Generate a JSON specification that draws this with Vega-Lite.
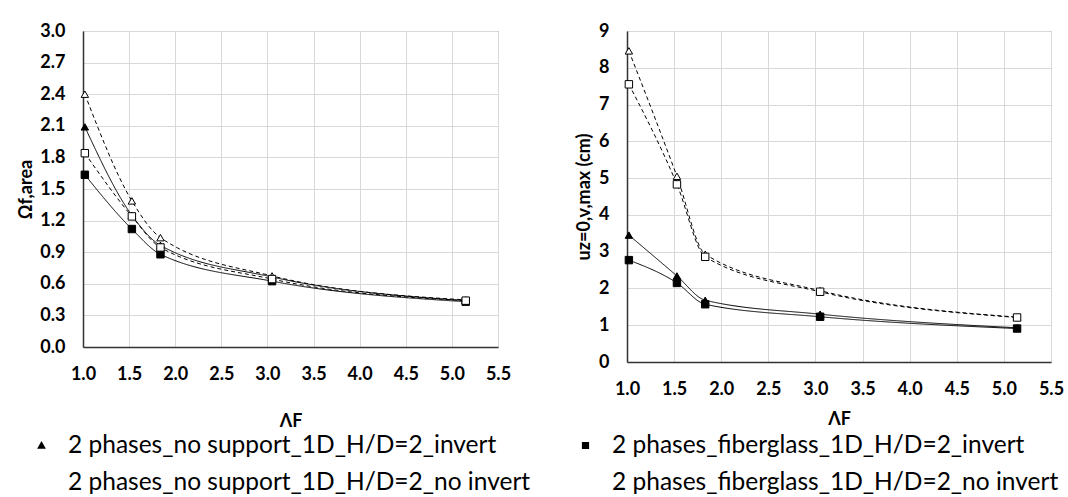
{
  "$schema": "https://vega.github.io/schema/vega-lite/v6.json",
  "padding": {"left": 17, "top": 21, "right": 0, "bottom": 0},
  "background": "white",
  "spacing": 63,
  "datasets": {
    "omega": [
      {"series": "2 phases_no support_1D_H/D=2_invert", "mode": "invert", "lambda": 1.02, "value": 2.09},
      {"series": "2 phases_no support_1D_H/D=2_invert", "mode": "invert", "lambda": 1.53, "value": 1.25},
      {"series": "2 phases_no support_1D_H/D=2_invert", "mode": "invert", "lambda": 1.84, "value": 0.965},
      {"series": "2 phases_no support_1D_H/D=2_invert", "mode": "invert", "lambda": 3.05, "value": 0.665},
      {"series": "2 phases_no support_1D_H/D=2_invert", "mode": "invert", "lambda": 5.15, "value": 0.44},
      {"series": "2 phases_fiberglass_1D_H/D=2_invert", "mode": "invert", "lambda": 1.02, "value": 1.635},
      {"series": "2 phases_fiberglass_1D_H/D=2_invert", "mode": "invert", "lambda": 1.53, "value": 1.12},
      {"series": "2 phases_fiberglass_1D_H/D=2_invert", "mode": "invert", "lambda": 1.84, "value": 0.88},
      {"series": "2 phases_fiberglass_1D_H/D=2_invert", "mode": "invert", "lambda": 3.05, "value": 0.625},
      {"series": "2 phases_fiberglass_1D_H/D=2_invert", "mode": "invert", "lambda": 5.15, "value": 0.43},
      {"series": "2 phases_no support_1D_H/D=2_no invert", "mode": "no invert", "lambda": 1.02, "value": 2.40},
      {"series": "2 phases_no support_1D_H/D=2_no invert", "mode": "no invert", "lambda": 1.53, "value": 1.387},
      {"series": "2 phases_no support_1D_H/D=2_no invert", "mode": "no invert", "lambda": 1.84, "value": 1.038},
      {"series": "2 phases_no support_1D_H/D=2_no invert", "mode": "no invert", "lambda": 3.05, "value": 0.675},
      {"series": "2 phases_no support_1D_H/D=2_no invert", "mode": "no invert", "lambda": 5.15, "value": 0.447},
      {"series": "2 phases_fiberglass_1D_H/D=2_no invert", "mode": "no invert", "lambda": 1.02, "value": 1.84},
      {"series": "2 phases_fiberglass_1D_H/D=2_no invert", "mode": "no invert", "lambda": 1.53, "value": 1.24},
      {"series": "2 phases_fiberglass_1D_H/D=2_no invert", "mode": "no invert", "lambda": 1.84, "value": 0.945},
      {"series": "2 phases_fiberglass_1D_H/D=2_no invert", "mode": "no invert", "lambda": 3.05, "value": 0.645},
      {"series": "2 phases_fiberglass_1D_H/D=2_no invert", "mode": "no invert", "lambda": 5.15, "value": 0.44}
    ],
    "disp": [
      {"series": "2 phases_no support_1D_H/D=2_invert", "mode": "invert", "lambda": 1.02, "value": 3.45},
      {"series": "2 phases_no support_1D_H/D=2_invert", "mode": "invert", "lambda": 1.53, "value": 2.34},
      {"series": "2 phases_no support_1D_H/D=2_invert", "mode": "invert", "lambda": 1.83, "value": 1.68},
      {"series": "2 phases_no support_1D_H/D=2_invert", "mode": "invert", "lambda": 3.05, "value": 1.30},
      {"series": "2 phases_no support_1D_H/D=2_invert", "mode": "invert", "lambda": 5.14, "value": 0.93},
      {"series": "2 phases_fiberglass_1D_H/D=2_invert", "mode": "invert", "lambda": 1.02, "value": 2.77},
      {"series": "2 phases_fiberglass_1D_H/D=2_invert", "mode": "invert", "lambda": 1.53, "value": 2.15},
      {"series": "2 phases_fiberglass_1D_H/D=2_invert", "mode": "invert", "lambda": 1.83, "value": 1.57},
      {"series": "2 phases_fiberglass_1D_H/D=2_invert", "mode": "invert", "lambda": 3.05, "value": 1.23},
      {"series": "2 phases_fiberglass_1D_H/D=2_invert", "mode": "invert", "lambda": 5.14, "value": 0.91},
      {"series": "2 phases_no support_1D_H/D=2_no invert", "mode": "no invert", "lambda": 1.02, "value": 8.46},
      {"series": "2 phases_no support_1D_H/D=2_no invert", "mode": "no invert", "lambda": 1.53, "value": 5.05},
      {"series": "2 phases_no support_1D_H/D=2_no invert", "mode": "no invert", "lambda": 1.83, "value": 2.93},
      {"series": "2 phases_no support_1D_H/D=2_no invert", "mode": "no invert", "lambda": 3.05, "value": 1.94},
      {"series": "2 phases_no support_1D_H/D=2_no invert", "mode": "no invert", "lambda": 5.14, "value": 1.22},
      {"series": "2 phases_fiberglass_1D_H/D=2_no invert", "mode": "no invert", "lambda": 1.02, "value": 7.55},
      {"series": "2 phases_fiberglass_1D_H/D=2_no invert", "mode": "no invert", "lambda": 1.53, "value": 4.83},
      {"series": "2 phases_fiberglass_1D_H/D=2_no invert", "mode": "no invert", "lambda": 1.83, "value": 2.86},
      {"series": "2 phases_fiberglass_1D_H/D=2_no invert", "mode": "no invert", "lambda": 3.05, "value": 1.91},
      {"series": "2 phases_fiberglass_1D_H/D=2_no invert", "mode": "no invert", "lambda": 5.14, "value": 1.21}
    ]
  },
  "resolve": {"scale": {"strokeDash": "shared"}},
  "hconcat": [
    {
      "width": 415,
      "height": 316,
      "data": {"name": "omega"},
      "encoding": {
        "x": {"field": "lambda", "type": "quantitative", "scale": {"domain": [1, 5.5], "nice": false, "zero": false},
              "axis": {"title": "ΛF", "values": [1, 1.5, 2, 2.5, 3, 3.5, 4, 4.5, 5, 5.5], "format": ".1f", "titlePadding": 29}},
        "y": {"field": "value", "type": "quantitative", "scale": {"domain": [0, 3], "nice": false},
              "axis": {"title": "Ωf,area", "values": [0, 0.3, 0.6, 0.9, 1.2, 1.5, 1.8, 2.1, 2.4, 2.7, 3.0], "format": ".1f", "titlePadding": 4}}
      },
      "layer": [
        {
          "mark": {"type": "line", "interpolate": "monotone", "color": "black", "strokeWidth": 1},
          "encoding": {
            "detail": {"field": "series"},
            "strokeDash": {"field": "mode", "type": "nominal", "legend": null,
              "scale": {"domain": ["invert", "no invert"], "range": [[1, 0], [4, 3]]}}
          }
        },
        {
          "transform": [{"filter": {"field": "series", "equal": "2 phases_no support_1D_H/D=2_invert"}}],
          "mark": {"type": "point", "shape": "triangle-up", "fill": "black", "stroke": "black", "strokeWidth": 1, "size": 55, "opacity": 1}
        },
        {
          "transform": [{"filter": {"field": "series", "equal": "2 phases_fiberglass_1D_H/D=2_invert"}}],
          "mark": {"type": "point", "shape": "square", "fill": "black", "stroke": "black", "strokeWidth": 1, "size": 55, "opacity": 1}
        },
        {
          "transform": [{"filter": {"field": "series", "equal": "2 phases_no support_1D_H/D=2_no invert"}}],
          "mark": {"type": "point", "shape": "triangle-up", "fill": "white", "stroke": "black", "strokeWidth": 1, "size": 55, "opacity": 1}
        },
        {
          "transform": [{"filter": {"field": "series", "equal": "2 phases_fiberglass_1D_H/D=2_no invert"}}],
          "mark": {"type": "point", "shape": "square", "fill": "white", "stroke": "black", "strokeWidth": 1, "size": 55, "opacity": 1}
        },
        {
          "mark": {"type": "point", "filled": true, "stroke": "black", "strokeWidth": 1, "opacity": 0, "size": 55},
          "encoding": {
            "fill": {"field": "series", "type": "nominal",
              "scale": {"domain": ["2 phases_no support_1D_H/D=2_invert", "2 phases_fiberglass_1D_H/D=2_invert", "2 phases_no support_1D_H/D=2_no invert", "2 phases_fiberglass_1D_H/D=2_no invert"],
                        "range": ["black", "black", "white", "white"]},
              "legend": {
                "title": null, "orient": "none", "legendX": -58, "legendY": 394,
                "columns": 2, "direction": "horizontal", "columnPadding": 29, "rowPadding": 5,
                "symbolSize": 1600, "symbolOpacity": 1, "symbolStrokeColor": "black", "symbolStrokeWidth": 1,
                "labelOffset": 2, "labelFont": "Lato", "labelFontSize": 24.5, "labelColor": "black", "labelLimit": 700
              }},
            "shape": {"field": "series", "type": "nominal",
              "scale": {"domain": ["2 phases_no support_1D_H/D=2_invert", "2 phases_fiberglass_1D_H/D=2_invert", "2 phases_no support_1D_H/D=2_no invert", "2 phases_fiberglass_1D_H/D=2_no invert"],
                        "range": [
                          "M-1.35,0L1,0M-0.2,-0.22L0.02,0.16L-0.42,0.16Z",
                          "M-1.35,0L1,0M-0.38,-0.18L-0.02,-0.18L-0.02,0.18L-0.38,0.18Z",
                          "M-1.35,0L-1,0M-0.6,0L0.4,0M0.65,0L1,0M-0.15,-0.3L0.15,0.2L-0.45,0.2Z",
                          "M-1.35,0L-1,0M-0.6,0L0.4,0M0.65,0L1,0M-0.4,-0.25L0.1,-0.25L0.1,0.25L-0.4,0.25Z"
                        ]},
              "legend": {
                "title": null, "orient": "none", "legendX": -58, "legendY": 394,
                "columns": 2, "direction": "horizontal", "columnPadding": 29, "rowPadding": 5,
                "symbolSize": 1600, "symbolOpacity": 1, "symbolStrokeColor": "black", "symbolStrokeWidth": 1,
                "labelOffset": 2, "labelFont": "Lato", "labelFontSize": 24.5, "labelColor": "black", "labelLimit": 700
              }
            }
          }
        }
      ]
    },
    {
      "width": 424,
      "height": 331,
      "data": {"name": "disp"},
      "encoding": {
        "x": {"field": "lambda", "type": "quantitative", "scale": {"domain": [1, 5.5], "nice": false, "zero": false},
              "axis": {"title": "ΛF", "values": [1, 1.5, 2, 2.5, 3, 3.5, 4, 4.5, 5, 5.5], "format": ".1f", "titlePadding": 12}},
        "y": {"field": "value", "type": "quantitative", "scale": {"domain": [0, 9], "nice": false},
              "axis": {"title": "uz=0,v,max (cm)", "values": [0, 1, 2, 3, 4, 5, 6, 7, 8, 9], "format": "d", "titlePadding": 5}}
      },
      "layer": [
        {
          "mark": {"type": "line", "interpolate": "monotone", "color": "black", "strokeWidth": 1},
          "encoding": {
            "detail": {"field": "series"},
            "strokeDash": {"field": "mode", "type": "nominal", "legend": null,
              "scale": {"domain": ["invert", "no invert"], "range": [[1, 0], [4, 3]]}}
          }
        },
        {
          "transform": [{"filter": {"field": "series", "equal": "2 phases_no support_1D_H/D=2_invert"}}],
          "mark": {"type": "point", "shape": "triangle-up", "fill": "black", "stroke": "black", "strokeWidth": 1, "size": 55, "opacity": 1}
        },
        {
          "transform": [{"filter": {"field": "series", "equal": "2 phases_fiberglass_1D_H/D=2_invert"}}],
          "mark": {"type": "point", "shape": "square", "fill": "black", "stroke": "black", "strokeWidth": 1, "size": 55, "opacity": 1}
        },
        {
          "transform": [{"filter": {"field": "series", "equal": "2 phases_no support_1D_H/D=2_no invert"}}],
          "mark": {"type": "point", "shape": "triangle-up", "fill": "white", "stroke": "black", "strokeWidth": 1, "size": 55, "opacity": 1}
        },
        {
          "transform": [{"filter": {"field": "series", "equal": "2 phases_fiberglass_1D_H/D=2_no invert"}}],
          "mark": {"type": "point", "shape": "square", "fill": "white", "stroke": "black", "strokeWidth": 1, "size": 55, "opacity": 1}
        }
      ]
    }
  ],
  "config": {
    "font": "Lato",
    "view": {"stroke": "#8c8c8c", "strokeWidth": 1},
    "axis": {
      "labelFont": "Lato", "labelFontWeight": "bold", "labelFontSize": 18, "labelColor": "black",
      "titleFont": "Lato", "titleFontWeight": "bold", "titleFontSize": 18, "titleColor": "black",
      "grid": true, "gridColor": "#d9d9d9", "gridWidth": 1,
      "ticks": false, "labelPadding": 18,
      "domain": true, "domainColor": "#333333", "domainWidth": 1.5,
      "labelFlush": false, "labelOverlap": false
    }
  }
}
